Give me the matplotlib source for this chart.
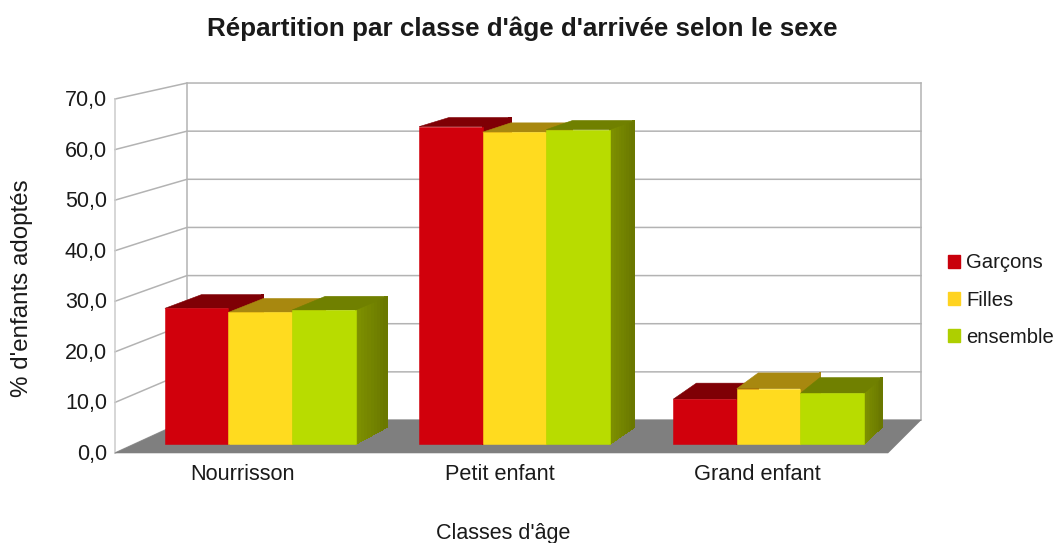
import matplotlib
matplotlib.use('Agg')
import matplotlib.pyplot as plt
from matplotlib.colors import to_rgb
from matplotlib.patches import Polygon, Patch

plt.rcParams['font.family'] = ['Liberation Sans', 'DejaVu Sans']

categories = ['Nourrisson', 'Petit enfant', 'Grand enfant']
series_names = ['Garçons', 'Filles', 'ensemble']
garcons = [27.2, 63.6, 9.0]
filles = [26.4, 62.5, 11.1]
ensemble = [26.85, 63.0, 10.15]
y_ticks = [0, 10, 20, 30, 40, 50, 60, 70]

series = [garcons, filles, ensemble]
front_colors = ['#d1000c', '#ffdb1f', '#b8dc00']
top_colors = ['#7f0005', '#a8880f', '#708000']
side_light = ['#7f0005', '#a8880f', '#7f9200']
side_dark = ['#7f0005', '#a8880f', '#6a7800']
legend_colors = ['#c9000b', '#ffd320', '#aecf00']
GRID = '#b3b3b3'
TEXT = '#1a1a1a'


def project(x, v, d):
    """category position x, value v, depth d (0 front, 1 back) -> pixels"""
    left = 115 + 72 * d
    right = 888 + 33 * d
    base = 453 - 33 * d
    scale = 5.057 - 0.243 * d
    return left + (right - left) * x / len(categories), base - scale * v


def face(ax, corners, color, z, aa=True):
    pts = [project(*c) for c in corners]
    ax.add_patch(Polygon(pts, closed=True, facecolor=color, edgecolor=color, lw=0.4, zorder=z, antialiased=aa))


def side_face(ax, x, v, d0, d1, light, dark, z, steps=10):
    # lit side of a bar, split in strips for the gradient
    c0, c1 = to_rgb(light), to_rgb(dark)
    for k in range(steps):
        a = d0 + (d1 - d0) * k / steps
        b = d0 + (d1 - d0) * (k + 1) / steps
        f = k / (steps - 1)
        col = tuple(p + (q - p) * f for p, q in zip(c0, c1))
        face(ax, [(x, 0, a), (x, 0, b), (x, v, b), (x, v, a)], col, z, aa=False)


fig = plt.figure(figsize=(10.54, 5.43), dpi=100)
ax = fig.add_axes([0, 0, 1, 1])
ax.set_xlim(0, 1054)
ax.set_ylim(543, 0)
ax.axis('off')

# walls and grid
n = len(categories)
for t in y_ticks:
    x0, y0 = project(0, t, 0)
    x1, y1 = project(0, t, 1)
    x2, y2 = project(n, t, 1)
    ax.plot([x0, x1, x2], [y0, y1, y2], color=GRID, lw=1.1, zorder=1)
    ax.text(x0 - 8, y0 + 1.5, f'{t},0', ha='right', va='center', fontsize=15.5, color=TEXT)
xa, ya = project(0, 0, 0)
xb, yb = project(0, y_ticks[-1], 0)
ax.plot([xa, xb], [ya, yb], color='#cccccc', lw=1.1, zorder=1)
for x, d in [(0, 1), (n, 1)]:
    xa, ya = project(x, 0, d)
    xb, yb = project(x, y_ticks[-1], d)
    ax.plot([xa, xb], [ya, yb], color=GRID, lw=1.1, zorder=1)
face(ax, [(0, 0, 0), (n, 0, 0), (n, 0, 1), (0, 0, 1)], '#7f7f7f', 2)

# bars
bar_w = 0.25
d_front, d_back = 0.27, 0.79
z = 3
for i, cat in enumerate(categories):
    for j, values in enumerate(series):
        v = values[i]
        xl = i + 0.12 + j * bar_w
        xr = xl + bar_w
        side_face(ax, xr, v, d_front, d_back, side_light[j], side_dark[j], z)
        face(ax, [(xl, v, d_front), (xr, v, d_front), (xr, v, d_back), (xl, v, d_back)], top_colors[j], z + 1)
        face(ax, [(xl, 0, d_front), (xr, 0, d_front), (xr, v, d_front), (xl, v, d_front)], front_colors[j], z + 2)
        z += 3
    xc, _ = project(i + 0.5, 0, 0)
    ax.text(xc - 1.5, 474.5, cat, ha='center', va='center', fontsize=15.7, color=TEXT)

ax.text(522, 29, "Répartition par classe d'âge d'arrivée selon le sexe", ha='center', va='center',
        fontsize=18.75, fontweight='bold', color=TEXT)
ax.text(503, 533, "Classes d'âge", ha='center', va='center', fontsize=15.5, color=TEXT)
ax.text(22, 288, "% d'enfants adoptés", ha='center', va='center', rotation=90, fontsize=17.4, color=TEXT)

handles = [Patch(facecolor=c, edgecolor=c, label=s) for c, s in zip(legend_colors, series_names)]
ax.legend(handles=handles, loc='center left', bbox_to_anchor=(942 / 1054, 1 - 300 / 543), frameon=False,
          fontsize=14.6, handlelength=0.6, handleheight=0.6, handletextpad=0.3, labelspacing=0.9,
          borderpad=0, borderaxespad=0.3, labelcolor=TEXT)

fig.savefig('out.png', dpi=100)
